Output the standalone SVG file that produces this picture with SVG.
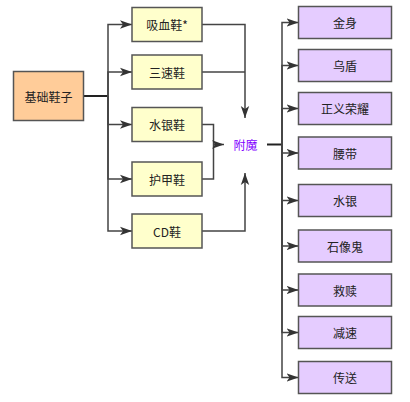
<svg xmlns="http://www.w3.org/2000/svg" width="410" height="402" viewBox="0 0 410 402">
<style>
.n rect{stroke:#555;stroke-width:1.5}
.orange rect{fill:#FFCC99}
.yellow rect{fill:#FFFFCC}
.purple rect{fill:#E5CCFF}
text{font-family:"Noto Sans CJK SC","Liberation Sans",sans-serif;font-size:12px;fill:#222;text-anchor:middle;dominant-baseline:central}
.e path{fill:none;stroke:#444;stroke-width:1.5}
.e path.a{marker-end:url(#ar)}
</style>
<defs>
<marker id="ar" markerUnits="userSpaceOnUse" markerWidth="12" markerHeight="10" viewBox="0 0 10 8" refX="10" refY="4" orient="auto">
<path d="M0,0.5 L10,4 L0,7.5 L2.5,4 z" fill="#333" stroke="none"/>
</marker>
</defs>
<rect width="410" height="402" fill="#fff"/>
<g id="connectors" class="e">
<path d="M84,96 H108" style="stroke:#222;stroke-width:2"/>
<path class="a" d="M108,96 V24.5 H132"/>
<path class="a" d="M108,96 V72 H132"/>
<path class="a" d="M108,96 V124.5 H132"/>
<path class="a" d="M108,96 V179 H132"/>
<path class="a" d="M108,96 V231 H132"/>
<path class="a" d="M202,24.5 H245 V118"/>
<path d="M202,72 H245"/>
<path d="M202,124.5 H213.5 V179 H202"/>
<path class="a" d="M213.5,144.5 H224"/>
<path class="a" d="M202,231 H245 V173"/>
<path d="M267,144.5 H282" style="stroke:#222;stroke-width:2"/>
<path class="a" d="M282,144.5 V22.5 H298.5"/>
<path class="a" d="M282,144.5 V65.5 H298.5"/>
<path class="a" d="M282,144.5 V108.5 H298.5"/>
<path class="a" d="M282,144.5 V153 H298.5"/>
<path class="a" d="M282,144.5 V200.5 H298.5"/>
<path class="a" d="M282,144.5 V246 H298.5"/>
<path class="a" d="M282,144.5 V290 H298.5"/>
<path class="a" d="M282,144.5 V332.5 H298.5"/>
<path class="a" d="M282,144.5 V377.5 H298.5"/>
</g>
<g id="n-base" class="n orange"><rect x="13.5" y="71.5" width="70" height="49"/><text x="48.5" y="96">基础鞋子</text></g>
<g id="n-xixue" class="n yellow"><rect x="132" y="7.5" width="70" height="34"/><text x="167" y="24.5">吸血鞋*</text></g>
<g id="n-sansu" class="n yellow"><rect x="132" y="55" width="70" height="34"/><text x="167" y="72">三速鞋</text></g>
<g id="n-shuiyin" class="n yellow"><rect x="132" y="107.5" width="70" height="34"/><text x="167" y="124.5">水银鞋</text></g>
<g id="n-hujia" class="n yellow"><rect x="132" y="162" width="70" height="34"/><text x="167" y="179">护甲鞋</text></g>
<g id="n-cd" class="n yellow"><rect x="132" y="214" width="70" height="34"/><text x="167" y="231">CD鞋</text></g>
<g id="n-fumo"><text x="245.5" y="144.5" style="fill:#7F00FF">附魔</text></g>
<g id="n-jinshen" class="n purple"><rect x="298.5" y="6.5" width="93" height="32"/><text x="345" y="22.5">金身</text></g>
<g id="n-wudun" class="n purple"><rect x="298.5" y="49.5" width="93" height="32"/><text x="345" y="65.5">乌盾</text></g>
<g id="n-zhengyi" class="n purple"><rect x="298.5" y="92.5" width="93" height="32"/><text x="345" y="108.5">正义荣耀</text></g>
<g id="n-yaodai" class="n purple"><rect x="298.5" y="137" width="93" height="32"/><text x="345" y="153">腰带</text></g>
<g id="n-shuiyin2" class="n purple"><rect x="298.5" y="184.5" width="93" height="32"/><text x="345" y="200.5">水银</text></g>
<g id="n-shixiang" class="n purple"><rect x="298.5" y="230" width="93" height="32"/><text x="345" y="246">石像鬼</text></g>
<g id="n-jiushu" class="n purple"><rect x="298.5" y="274" width="93" height="32"/><text x="345" y="290">救赎</text></g>
<g id="n-jiansu" class="n purple"><rect x="298.5" y="316.5" width="93" height="32"/><text x="345" y="332.5">减速</text></g>
<g id="n-chuansong" class="n purple"><rect x="298.5" y="361.5" width="93" height="32"/><text x="345" y="377.5">传送</text></g>
</svg>
